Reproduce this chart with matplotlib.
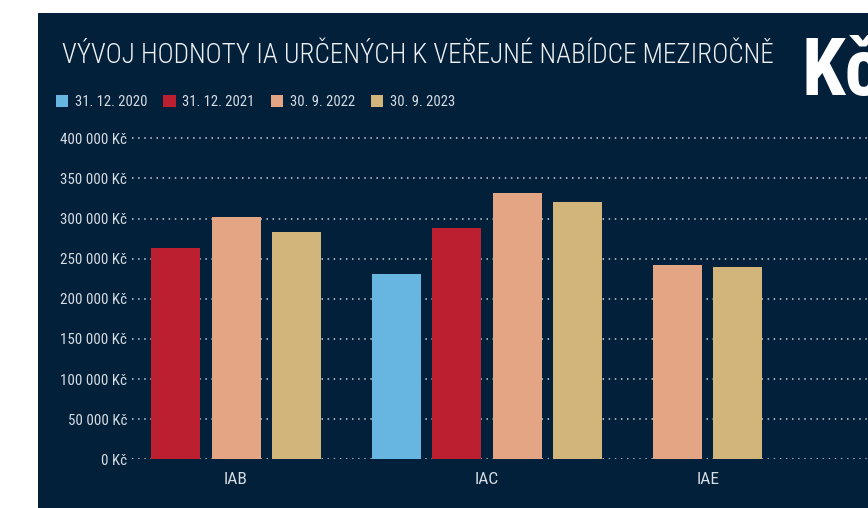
import matplotlib
matplotlib.use("Agg")
from matplotlib import pyplot as plt
from matplotlib.patches import Rectangle, Patch
from matplotlib.ticker import FuncFormatter, FixedLocator
import numpy as np


# hodnoty IA v Kč, None = fond v daném období neexistoval
categories = ["IAB", "IAC", "IAE"]
series_labels = ["31. 12. 2020", "31. 12. 2021", "30. 9. 2022", "30. 9. 2023"]
values_2020 = [None, 231000, None]
values_2021 = [263000, 288000, None]
values_2022 = [302000, 332000, 242000]
values_2023 = [283000, 321000, 240000]
y_ticks = [0, 50000, 100000, 150000, 200000, 250000, 300000, 350000, 400000]

title = "VÝVOJ HODNOTY IA URČENÝCH K VEŘEJNÉ NABÍDCE MEZIROČNĚ"

NAVY = "#03203a"
COLORS = ["#67b5e1", "#bb1f30", "#e3a583", "#d1b57a"]
LIGHT = "#d6dce3"
NARROW = ["Liberation Sans Narrow", "Roboto Condensed", "DejaVu Sans"]


def kc_format(val, pos):
    """400000 -> '400 000 Kč'"""
    return "{:,.0f} Kč".format(val).replace(",", " ")


def bar_layout(series, group_gap=0.65):
    """
    spočítá pozice sloupců: sloupce jdou za sebou, prázdné se vynechají
    a mezi skupinami je větší mezera. vrací seznam (x, hodnota, barva)
    a středy skupin pro popisky osy x.
    """
    bars = []
    centers = []
    pos = 0.0
    for g in range(len(categories)):
        xs = []
        for s, vals in enumerate(series):
            if vals[g] is None:
                continue
            bars.append((pos, vals[g], COLORS[s]))
            xs.append(pos)
            pos += 1
        centers.append(np.mean(xs))
        pos += group_gap
    return bars, centers


def plot_chart():
    fig = plt.figure(figsize=(8.68, 5.08), dpi=100, facecolor="white")
    fig.patches.append(Rectangle((38 / 868, 0), 1, (508 - 13) / 508,
                                 transform=fig.transFigure,
                                 facecolor=NAVY, edgecolor="none", zorder=-5))

    ax = fig.add_axes([132 / 868, 48.7 / 508, 1 - 132 / 868, 329 / 508])
    ax.set_facecolor("none")
    ax.set_zorder(2)

    series = [values_2020, values_2021, values_2022, values_2023]
    bars, centers = bar_layout(series)
    for x, v, c in bars:
        ax.bar(x, v, width=0.81, color=c, zorder=3)

    ax.set_xlim(-0.72, 11.45)
    ax.set_ylim(0, 410000)

    ax.yaxis.set_major_locator(FixedLocator(y_ticks))
    ax.yaxis.set_major_formatter(FuncFormatter(kc_format))
    ax.set_xticks(centers)
    ax.set_xticklabels(categories)

    ax.yaxis.grid(True, linestyle=(0, (1, 3)), linewidth=1.1,
                  color="#c9d1da", zorder=1)
    ax.set_axisbelow(True)
    for sp in ax.spines.values():
        sp.set_visible(False)
    ax.tick_params(axis="both", length=0, colors=LIGHT)
    ax.tick_params(axis="y", pad=3.5)
    ax.tick_params(axis="x", pad=9)
    for lab in ax.get_yticklabels():
        lab.set_family(NARROW)
        lab.set_fontsize(10.8)
    for lab in ax.get_xticklabels():
        lab.set_family(NARROW)
        lab.set_fontsize(12.5)

    fig.text(62 / 868, 1 - 63 / 508, title, family=NARROW, fontsize=19.6,
             fontweight="light", color="#eef1f4", ha="left", va="baseline")
    fig.text(802 / 868, 1 - 95 / 508, "Kč", family=NARROW, fontsize=57,
             fontweight="bold", color="white", ha="left", va="baseline")

    handles = [Patch(facecolor=c, edgecolor="none") for c in COLORS]
    fig.legend(handles, series_labels, loc="center left",
               bbox_to_anchor=(50 / 868, 1 - 102 / 508), ncol=4,
               frameon=False, prop={"family": NARROW, "size": 10.5},
               labelcolor=LIGHT, handlelength=0.85, handleheight=0.85,
               handletextpad=0.45, columnspacing=1.1, borderaxespad=0)

    fig.savefig("out.png", dpi=100, facecolor="white")


if __name__ == "__main__":
    plot_chart()
